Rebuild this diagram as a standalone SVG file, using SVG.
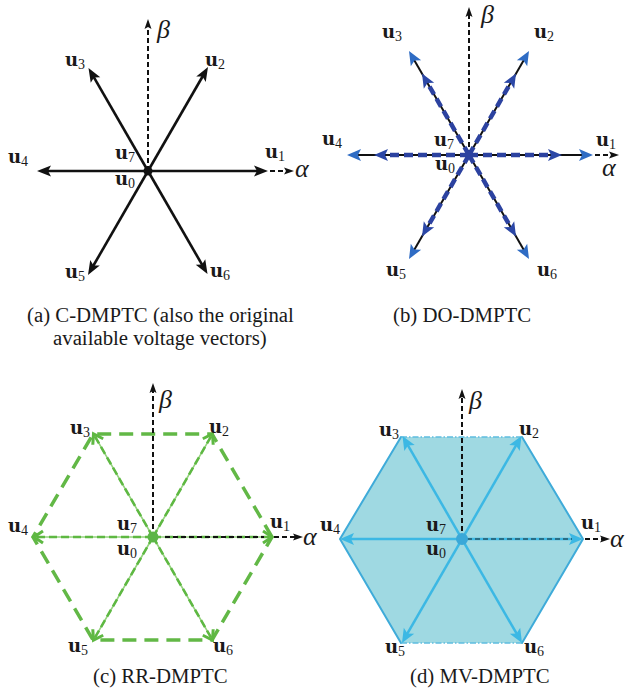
<svg xmlns="http://www.w3.org/2000/svg" width="628" height="696" viewBox="0 0 628 696">
<style>
.u{font-family:"DejaVu Serif","Liberation Serif",serif;font-weight:bold;font-size:18px;fill:#1a1a1a}
.s{font-family:"Liberation Serif","Times New Roman",serif;font-weight:normal;font-size:14px}
.g{font-family:"Liberation Serif","Times New Roman",serif;font-style:italic;font-size:26px;fill:#1a1a1a}
.cap{font-family:"Liberation Serif","Times New Roman",serif;font-size:20.8px;fill:#1a1a1a}
.ax{stroke:#111;stroke-width:2;stroke-dasharray:5 3;fill:none}
.vk{stroke:#111;stroke-width:2.6;fill:none}
.vb{stroke:#111;stroke-width:2;fill:none}
.db{stroke:#2c42a0;stroke-width:4.5;stroke-dasharray:9 5;fill:none}
.gl{stroke:#93d27c;stroke-width:1.6;fill:none}
.gd{stroke:#5eb842;stroke-width:2.6;stroke-dasharray:8 4;fill:none}
.hx{stroke:#62b846;stroke-width:3.5;stroke-dasharray:14 8;fill:none}
.cy{stroke:#3cb8e4;stroke-width:2.5;fill:none}
.he{stroke:#3fabd9;stroke-width:2;fill:none;stroke-linecap:round}
.hd{stroke:#5fbde0;stroke-width:1.6;fill:none;stroke-dasharray:6 2 1.5 2}
</style>
<defs>
<marker id="mk" markerUnits="userSpaceOnUse" markerWidth="30" markerHeight="30" viewBox="-15 -15 30 30" refX="0" refY="0" orient="auto"><path d="M8,0 L-6,-5.5 L-3,0 L-6,5.5 Z" fill="#111"/></marker>
<marker id="ma" markerUnits="userSpaceOnUse" markerWidth="20" markerHeight="20" viewBox="-10 -10 20 20" refX="0" refY="0" orient="auto"><path d="M6,0 L-4,-3.5 L-2,0 L-4,3.5 Z" fill="#111"/></marker>
<marker id="mbi" markerUnits="userSpaceOnUse" markerWidth="30" markerHeight="30" viewBox="-15 -15 30 30" refX="0" refY="0" orient="auto"><path d="M8,0 L-6,-6 L-3,0 L-6,6 Z" fill="#2b47a6"/></marker>
<marker id="mbo" markerUnits="userSpaceOnUse" markerWidth="30" markerHeight="30" viewBox="-15 -15 30 30" refX="0" refY="0" orient="auto"><path d="M8,0 L-6,-6 L-3,0 L-6,6 Z" fill="#2f6cc4"/></marker>
<marker id="mg" markerUnits="userSpaceOnUse" markerWidth="30" markerHeight="30" viewBox="-15 -15 30 30" refX="0" refY="0" orient="auto"><path d="M-8,-6 L1,0 L-8,6" fill="none" stroke="#5eb842" stroke-width="3" stroke-linejoin="miter"/></marker>
<marker id="mc" markerUnits="userSpaceOnUse" markerWidth="30" markerHeight="30" viewBox="-15 -15 30 30" refX="0" refY="0" orient="auto"><path d="M8,0 L-6,-6 L-3,0 L-6,6 Z" fill="#3cb8e4"/></marker>
</defs>
<rect width="628" height="696" fill="#fff"/>

<!-- Panel (a) -->
<g id="connectors-a">
<line class="ax" x1="148" y1="171" x2="148" y2="25" marker-end="url(#ma)"/>
<line class="ax" x1="270" y1="171" x2="288" y2="171" marker-end="url(#ma)"/>
<g transform="translate(148,171)">
<line class="vk" x1="0" y1="0" x2="112" y2="0" marker-end="url(#mk)"/>
<line class="vk" x1="0" y1="0" x2="112" y2="0" transform="rotate(-60)" marker-end="url(#mk)"/>
<line class="vk" x1="0" y1="0" x2="111" y2="0" transform="rotate(-120)" marker-end="url(#mk)"/>
<line class="vk" x1="0" y1="0" x2="103" y2="0" transform="rotate(180)" marker-end="url(#mk)"/>
<line class="vk" x1="0" y1="0" x2="112" y2="0" transform="rotate(120)" marker-end="url(#mk)"/>
<line class="vk" x1="0" y1="0" x2="111" y2="0" transform="rotate(60)" marker-end="url(#mk)"/>
</g>
</g>
<g id="a-origin"><circle cx="148" cy="171" r="4.5" fill="#111"/></g>
<g id="a-labels">
<text class="g" x="157" y="38">β</text>
<text class="g" x="295" y="177">α</text>
<text class="u" x="65" y="66">u<tspan class="s" dy="3">3</tspan></text>
<text class="u" x="205" y="66">u<tspan class="s" dy="3">2</tspan></text>
<text class="u" x="265" y="158">u<tspan class="s" dy="3">1</tspan></text>
<text class="u" x="8" y="163">u<tspan class="s" dy="3">4</tspan></text>
<text class="u" x="115" y="159">u<tspan class="s" dy="3">7</tspan></text>
<text class="u" x="115" y="185">u<tspan class="s" dy="3">0</tspan></text>
<text class="u" x="65" y="278">u<tspan class="s" dy="3">5</tspan></text>
<text class="u" x="210" y="277">u<tspan class="s" dy="3">6</tspan></text>
</g>
<g id="cap-a">
<text class="cap" x="27" y="322">(a) C-DMPTC (also the original</text>
<text class="cap" x="53" y="345">available voltage vectors)</text>
</g>

<!-- Panel (b) -->
<g id="connectors-b">
<line class="ax" x1="469" y1="155" x2="469" y2="13" marker-end="url(#ma)"/>
<line class="ax" x1="595" y1="155" x2="613" y2="155" marker-end="url(#ma)"/>
<g transform="translate(469,155)">
<g>
<line class="vb" x1="0" y1="0" x2="116" y2="0" marker-end="url(#mbo)"/>
<line class="vb" x1="0" y1="0" x2="112" y2="0" transform="rotate(-60)" marker-end="url(#mbo)"/>
<line class="vb" x1="0" y1="0" x2="112" y2="0" transform="rotate(-120)" marker-end="url(#mbo)"/>
<line class="vb" x1="0" y1="0" x2="114" y2="0" transform="rotate(180)" marker-end="url(#mbo)"/>
<line class="vb" x1="0" y1="0" x2="112" y2="0" transform="rotate(120)" marker-end="url(#mbo)"/>
<line class="vb" x1="0" y1="0" x2="112" y2="0" transform="rotate(60)" marker-end="url(#mbo)"/>
</g>
<g>
<line class="db" x1="0" y1="0" x2="85" y2="0" marker-end="url(#mbi)"/>
<line class="db" x1="0" y1="0" x2="86" y2="0" transform="rotate(-60)" marker-end="url(#mbi)"/>
<line class="db" x1="0" y1="0" x2="86" y2="0" transform="rotate(-120)" marker-end="url(#mbi)"/>
<line class="db" x1="0" y1="0" x2="87" y2="0" transform="rotate(180)" marker-end="url(#mbi)"/>
<line class="db" x1="0" y1="0" x2="86" y2="0" transform="rotate(120)" marker-end="url(#mbi)"/>
<line class="db" x1="0" y1="0" x2="86" y2="0" transform="rotate(60)" marker-end="url(#mbi)"/>
</g>
</g>
</g>
<g id="b-origin"><circle cx="469" cy="155" r="4" fill="#2c42a0"/></g>
<g id="b-labels">
<text class="g" x="481" y="23">β</text>
<text class="g" x="602" y="176">α</text>
<text class="u" x="382" y="38">u<tspan class="s" dy="3">3</tspan></text>
<text class="u" x="534" y="38">u<tspan class="s" dy="3">2</tspan></text>
<text class="u" x="596" y="146">u<tspan class="s" dy="3">1</tspan></text>
<text class="u" x="322" y="145">u<tspan class="s" dy="3">4</tspan></text>
<text class="u" x="434" y="146">u<tspan class="s" dy="3">7</tspan></text>
<text class="u" x="435" y="170">u<tspan class="s" dy="3">0</tspan></text>
<text class="u" x="386" y="276">u<tspan class="s" dy="3">5</tspan></text>
<text class="u" x="537" y="276">u<tspan class="s" dy="3">6</tspan></text>
</g>
<g id="cap-b"><text class="cap" x="393" y="322">(b) DO-DMPTC</text></g>

<!-- Panel (c) -->
<g id="connectors-c">
<polygon class="hx" points="272,537 212,434 93,434 33,537 93,640 212,640"/>
<g transform="translate(153,537)">
<g>
<line class="gl" x1="0" y1="0" x2="117" y2="0"/>
<line class="gl" x1="0" y1="0" x2="117" y2="0" transform="rotate(-60)"/>
<line class="gl" x1="0" y1="0" x2="117" y2="0" transform="rotate(-120)"/>
<line class="gl" x1="0" y1="0" x2="117" y2="0" transform="rotate(180)"/>
<line class="gl" x1="0" y1="0" x2="117" y2="0" transform="rotate(120)"/>
<line class="gl" x1="0" y1="0" x2="117" y2="0" transform="rotate(60)"/>
</g>
<g>
<line class="gd" x1="0" y1="0" x2="118" y2="0" marker-end="url(#mg)"/>
<line class="gd" x1="0" y1="0" x2="118" y2="0" transform="rotate(-60)" marker-end="url(#mg)"/>
<line class="gd" x1="0" y1="0" x2="118" y2="0" transform="rotate(-120)" marker-end="url(#mg)"/>
<line class="gd" x1="0" y1="0" x2="118" y2="0" transform="rotate(180)" marker-end="url(#mg)"/>
<line class="gd" x1="0" y1="0" x2="118" y2="0" transform="rotate(120)" marker-end="url(#mg)"/>
<line class="gd" x1="0" y1="0" x2="118" y2="0" transform="rotate(60)" marker-end="url(#mg)"/>
</g>
</g>
<line class="ax" x1="153" y1="537" x2="153" y2="389" marker-end="url(#ma)"/>
<line class="ax" x1="165" y1="537" x2="264" y2="537"/>
<line class="ax" x1="274" y1="537" x2="297" y2="537" marker-end="url(#ma)"/>
</g>
<g id="c-origin"><circle cx="153" cy="537" r="5.5" fill="#5cb547"/></g>
<g id="c-labels">
<text class="g" x="159" y="408">β</text>
<text class="g" x="303" y="545">α</text>
<text class="u" x="70" y="434">u<tspan class="s" dy="3">3</tspan></text>
<text class="u" x="209" y="433">u<tspan class="s" dy="3">2</tspan></text>
<text class="u" x="270" y="528">u<tspan class="s" dy="3">1</tspan></text>
<text class="u" x="8" y="532">u<tspan class="s" dy="3">4</tspan></text>
<text class="u" x="117" y="530">u<tspan class="s" dy="3">7</tspan></text>
<text class="u" x="117" y="555">u<tspan class="s" dy="3">0</tspan></text>
<text class="u" x="68" y="652">u<tspan class="s" dy="3">5</tspan></text>
<text class="u" x="213" y="652">u<tspan class="s" dy="3">6</tspan></text>
</g>
<g id="cap-c"><text class="cap" x="93" y="683">(c) RR-DMPTC</text></g>

<!-- Panel (d) -->
<g id="connectors-d">
<polygon points="583,539 522,437 401,437 340,539 401,643 522,643" fill="#9fd9e2"/>
<path class="he" d="M522,437 L583,539 L522,643 M401,437 L340,539 L401,643"/>
<path class="hd" d="M401,437 L522,437 M401,643 L522,643"/>
<line class="ax" x1="462" y1="539" x2="462" y2="395" marker-end="url(#ma)"/>
<g transform="translate(462,539)">
<line class="cy" x1="0" y1="0" x2="113" y2="0" marker-end="url(#mc)"/>
<line class="cy" x1="0" y1="0" x2="111" y2="0" transform="rotate(-60)" marker-end="url(#mc)"/>
<line class="cy" x1="0" y1="0" x2="111" y2="0" transform="rotate(-120)" marker-end="url(#mc)"/>
<line class="cy" x1="0" y1="0" x2="114" y2="0" transform="rotate(180)" marker-end="url(#mc)"/>
<line class="cy" x1="0" y1="0" x2="112" y2="0" transform="rotate(120)" marker-end="url(#mc)"/>
<line class="cy" x1="0" y1="0" x2="112" y2="0" transform="rotate(60)" marker-end="url(#mc)"/>
</g>
<line class="ax" x1="467" y1="539" x2="572" y2="539" stroke-opacity="0.45"/>
<line class="ax" x1="585" y1="539" x2="604" y2="539" marker-end="url(#ma)"/>
</g>
<g id="d-origin"><circle cx="462" cy="539" r="6" fill="#3aa8d8"/></g>
<g id="d-labels">
<text class="g" x="469" y="409">β</text>
<text class="g" x="610" y="547">α</text>
<text class="u" x="379" y="436">u<tspan class="s" dy="3">3</tspan></text>
<text class="u" x="519" y="435">u<tspan class="s" dy="3">2</tspan></text>
<text class="u" x="581" y="529">u<tspan class="s" dy="3">1</tspan></text>
<text class="u" x="320" y="531">u<tspan class="s" dy="3">4</tspan></text>
<text class="u" x="426" y="531">u<tspan class="s" dy="3">7</tspan></text>
<text class="u" x="426" y="555">u<tspan class="s" dy="3">0</tspan></text>
<text class="u" x="385" y="653">u<tspan class="s" dy="3">5</tspan></text>
<text class="u" x="524" y="653">u<tspan class="s" dy="3">6</tspan></text>
</g>
<g id="cap-d"><text class="cap" x="410" y="683">(d) MV-DMPTC</text></g>
</svg>
